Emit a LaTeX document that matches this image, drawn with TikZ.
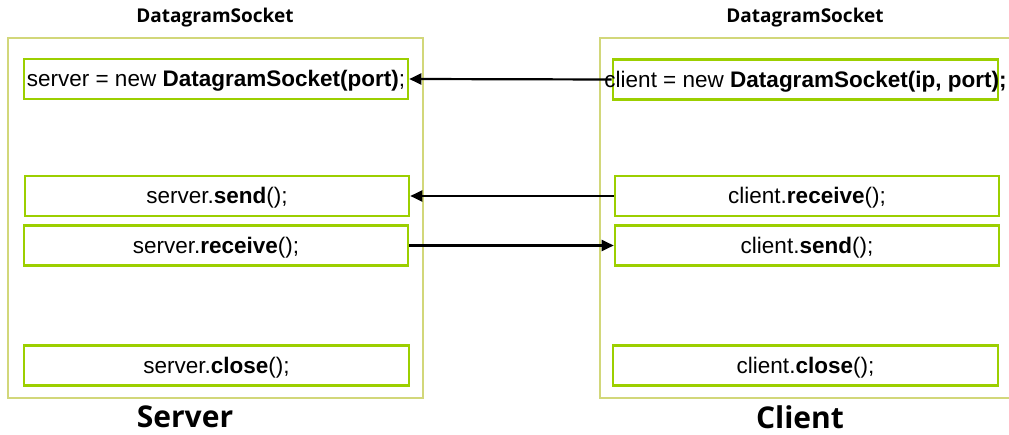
\documentclass[tikz,border=0pt]{standalone}
\usepackage{fontspec}
\setmainfont{Liberation Sans}
\newfontfamily\headfont{Open Sans}
\usetikzlibrary{arrows.meta}
\definecolor{panelline}{HTML}{D2D77A}
\definecolor{stepline}{HTML}{9CCF00}
\newcommand{\calltext}[1]{\makebox[0pt]{\raisebox{-2pt}[\height][\depth]{#1}}}
\begin{document}
\begin{tikzpicture}[x=1pt,y=-1pt,
  panel/.style={draw=panelline,line width=2pt,rectangle,inner sep=0pt},
  call/.style={draw=stepline,line width=2.6pt,inner sep=0pt,minimum height=40pt,
    font=\fontsize{22.5}{26}\selectfont},
  msg/.style={line width=2.2pt,-{Triangle[length=12pt,width=11pt]}},
  heading/.style={font=\headfont\bfseries\fontsize{19}{22}\selectfont},
  role/.style={font=\headfont\bfseries\fontsize{30}{34}\selectfont}]
\useasboundingbox (0,0) rectangle (1009,435);

% panels
\node[panel,minimum width=415pt,minimum height=360pt] (serverpanel) at (215.5,218) {};
\node[panel,minimum width=412pt,minimum height=360pt] (clientpanel) at (806,218) {};

% headings
\node[heading] (serverhead) at (215,18) {DatagramSocket};
\node[heading] (clienthead) at (805,18) {DatagramSocket};
\node[role] (serverlabel) at (185,417) {Server};
\node[role] (clientlabel) at (800,417) {Client};

% server calls
\node[call,minimum width=384pt] (s1) at (216,79)
  {\calltext{server = new \textbf{DatagramSocket(port)};}};
\node[call,minimum width=384pt] (s2) at (217,196)
  {\calltext{server.\textbf{send}();}};
\node[call,minimum width=384pt] (s3) at (216,245.5)
  {\calltext{server.\textbf{receive}();}};
\node[call,minimum width=385pt] (s4) at (216.5,365.5)
  {\calltext{server.\textbf{close}();}};

% client calls
\node[call,minimum width=385pt] (c1) at (805.5,79.5)
  {\calltext{client = new \textbf{DatagramSocket(ip, port);}}};
\node[call,minimum width=384pt] (c2) at (807,196)
  {\calltext{client.\textbf{receive}();}};
\node[call,minimum width=384pt] (c3) at (807,245.5)
  {\calltext{client.\textbf{send}();}};
\node[call,minimum width=385pt] (c4) at (805.5,365.5)
  {\calltext{client.\textbf{close}();}};

% messages
\draw[msg] (c1.west) -- (s1.east);
\draw[msg] (c2.west) -- (s2.east);
\draw[msg] (s3.east) -- (c3.west);
\end{tikzpicture}
\end{document}
